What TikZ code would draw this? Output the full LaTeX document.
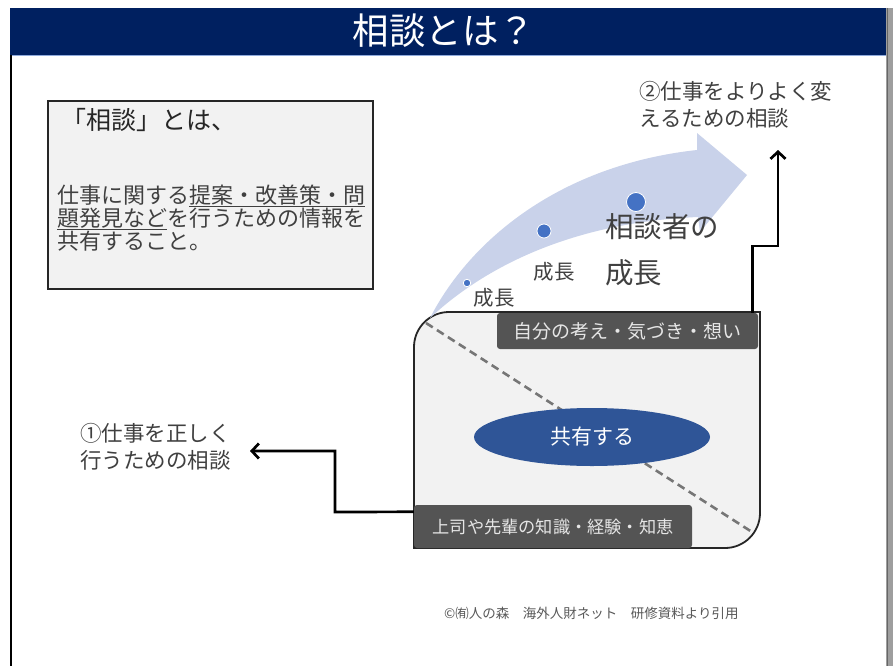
\documentclass[tikz,border=0pt]{standalone}
\usepackage{fontspec}
\setmainfont{Noto Sans CJK JP}
\usetikzlibrary{arrows.meta,shapes.geometric}
\definecolor{navy}{HTML}{002060}
\definecolor{navyline}{HTML}{8FAADC}
\definecolor{txt}{HTML}{404040}
\definecolor{boxgray}{HTML}{F2F2F2}
\definecolor{boxline}{HTML}{262626}
\definecolor{labfill}{HTML}{545454}
\definecolor{labtxt}{HTML}{E6E6E6}
\definecolor{ellfill}{HTML}{2F5597}
\definecolor{dotblue}{HTML}{4472C4}
\definecolor{flow}{HTML}{C9D2EA}
\definecolor{dashgray}{HTML}{767676}
\definecolor{foot}{HTML}{595959}
\newcommand{\fsz}[2]{\fontsize{#1}{#2}\selectfont}
\begin{document}
\begin{tikzpicture}[x=1pt,y=-1pt,
  txtnode/.style={inner sep=0pt, text=txt, align=left},
  darklabel/.style={rounded corners=3pt, fill=labfill, text=labtxt, inner sep=0pt},
  growdot/.style={circle, fill=dotblue, draw=white, line width=0.8pt, inner sep=0pt},
  arr/.style={line width=2.7pt, -{Straight Barb[length=7pt,width=15pt]}}]
\useasboundingbox (0,0) rectangle (893,666);
\fill[white] (0,0) rectangle (893,666);
% header
\fill[navy] (10,8) rectangle (887,55);
\draw[navyline, line width=1pt] (10,55.5) -- (887,55.5);
\node[inner sep=0pt, text=white, font=\fsz{36.5}{40}] (title) at (444,31) {相談とは？};
% frame
\draw[black, line width=1.8pt] (10.9,55) -- (10.9,666);
\fill[black!38] (886,8) rectangle (893,666);
\draw[black!60, line width=1pt] (887.5,8) -- (887.5,666);
% left definition box
\node[draw=boxline, fill=boxgray, line width=1.6pt, minimum width=325pt, minimum height=188pt, inner sep=0pt] (defbox) at (210.5,195) {};
\node[txtnode, anchor=west, text=boxline, font=\fsz{25}{28}] (defhead) at (61,120) {「相談」とは、};
\node[txtnode, anchor=west, font=\fsz{22}{23}] (defbody) at (57,218) {仕事に関する\underline{提案・改善策・問}\\\underline{題発見など}を行うための情報を\\共有すること。};
% main rounded box
\draw[boxline, fill=boxgray, line width=1.8pt] (449,312) -- (760,312) -- (760,513) .. controls (760,532.3) and (744.3,548) .. (725,548) -- (414,548) -- (414,347) .. controls (414,327.7) and (429.7,312) .. (449,312) -- cycle;
\draw[dashgray, line width=2.6pt, dash pattern=on 8pt off 5pt] (426,323) -- (752,532);
% growth arrow
\fill[flow] (430,318) .. controls (470,240) and (560,165) .. (697,150) -- (697,133) -- (747,175) -- (700,232) -- (698,217) .. controls (580,222) and (490,262) .. (430,318) -- cycle;
\node[growdot, minimum size=7.5pt] (dot1) at (467,283) {};
\node[growdot, minimum size=14pt] (dot2) at (544,231) {};
\node[growdot, minimum size=19pt] (dot3) at (636,202) {};
\node[txtnode, font=\fsz{20.5}{24}] (grow1) at (494,298) {成長};
\node[txtnode, font=\fsz{20.5}{24}] (grow2) at (554,272) {成長};
\node[txtnode, anchor=west, font=\fsz{28.5}{30}] (grow3a) at (605,227) {相談者の};
\node[txtnode, anchor=west, font=\fsz{28.5}{30}] (grow3b) at (605,273) {成長};
% labels inside box
\node[darklabel, minimum width=261pt, minimum height=36pt, font=\fsz{19}{22}] (toplab) at (627.5,331) {自分の考え・気づき・想い};
\node[darklabel, minimum width=278pt, minimum height=43pt, font=\fsz{17.2}{20}] (botlab) at (553,526.5) {上司や先輩の知識・経験・知恵};
\node[ellipse, fill=ellfill, text=white, minimum width=236pt, minimum height=58pt, inner sep=0pt, font=\fsz{21}{24}] (share) at (592,437) {共有する};
% side texts
\node[txtnode, anchor=west, font=\fsz{21.5}{27}] (use1) at (80,446.5) {①仕事を正しく\\行うための相談};
\node[txtnode, anchor=west, font=\fsz{21.5}{27}] (use2) at (639,104.5) {②仕事をよりよく変\\えるための相談};
% connectors
\coordinate (lbend) at (335,512);
\coordinate (ltip) at (250,451);
\draw[arr] ([yshift=-7pt]botlab.north west) -- (lbend) |- (ltip);
\coordinate (rbend) at (778,246);
\coordinate (rtip) at (778,150);
\draw[arr] ([xshift=-6pt]toplab.north east) |- (rbend) -- (rtip);
% footer
\node[inner sep=0pt, anchor=west, text=foot, font=\fsz{13.5}{15}] (credit) at (444,613) {©㈲人の森　海外人財ネット　研修資料より引用};
\end{tikzpicture}
\end{document}
